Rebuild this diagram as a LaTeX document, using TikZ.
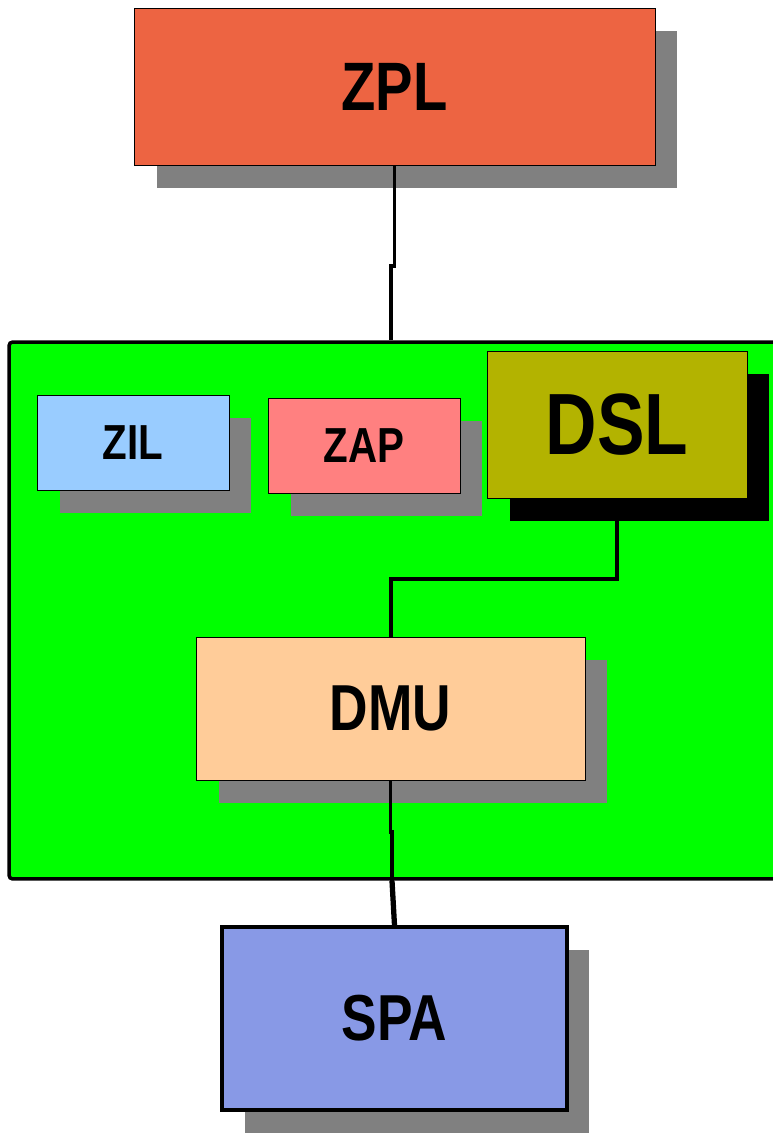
\documentclass[tikz,border=0pt]{standalone}
\usepackage{fontspec}
\setmainfont{Liberation Sans}[FakeStretch=0.82]
\usetikzlibrary{shadows}
\definecolor{zplred}{RGB}{237,100,66}
\definecolor{zilblue}{RGB}{153,204,255}
\definecolor{zappink}{RGB}{255,128,128}
\definecolor{dslolive}{RGB}{179,179,0}
\definecolor{dmupeach}{RGB}{255,204,153}
\definecolor{spablue}{RGB}{136,153,230}
\definecolor{shadowgray}{RGB}{128,128,128}
\definecolor{boardgreen}{RGB}{0,255,0}
\tikzset{
  block/.style={
    rectangle,
    draw=black,
    line width=0.5pt,
    inner sep=0pt,
    drop shadow={shadow xshift=0.45cm, shadow yshift=-0.46cm, fill=#1, opacity=1}
  },
  block/.default=shadowgray,
  label-big/.style={font=\bfseries\fontsize{39}{39}\selectfont},
  label-mid/.style={font=\bfseries\fontsize{37}{37}\selectfont},
  label-small/.style={font=\bfseries\fontsize{28}{28}\selectfont},
  label-huge/.style={font=\bfseries\fontsize{49.5}{49.5}\selectfont},
  wire/.style={line width=2pt, line join=miter},
  thick-wire/.style={line width=3pt}
}

\begin{document}
\begin{tikzpicture}[x=0.02cm, y=-0.02cm]
  \useasboundingbox (0,0) rectangle (772,1133);
  \node[block, fill=zplred, label-big, minimum width=10.42cm, minimum height=3.14cm]
    (zpl) at (394.5,86.5) {ZPL};
  \node[rectangle, draw=black, fill=boardgreen, line width=2pt, rounded corners=2pt,
    minimum width=15.62cm, minimum height=10.74cm] (board) at (399.5,610.5) {};
  \node[block, fill=zilblue, label-small, minimum width=3.84cm, minimum height=1.9cm]
    (zil) at (133,442.5) {ZIL};
  \node[block, fill=zappink, label-small, minimum width=3.84cm, minimum height=1.9cm]
    (zap) at (364,445.5) {ZAP};
  \node[block=black, fill=dslolive, label-huge, minimum width=5.2cm, minimum height=2.94cm]
    (dsl) at (617,424.5) {DSL};
  \node[block, fill=dmupeach, label-mid, minimum width=7.78cm, minimum height=2.86cm]
    (dmu) at (390.5,708.5) {DMU};
  \node[block, fill=spablue, label-mid, line width=2pt, minimum width=6.9cm, minimum height=3.66cm]
    (spa) at (394.5,1018.5) {SPA};
  \coordinate (j1) at (391,266);
  \coordinate (j2) at (391,579);
  \coordinate (j3) at (392,832);
  \draw[wire] (zpl.south) -- (zpl.south |- j1) -- (j1) -- (j1 |- board.north);
  \draw[wire] (dsl.south) |- (j2) -- (j2 |- dmu.north);
  \draw[wire] (dmu.south) -- (dmu.south |- j3) -- (j3) -- (j3 |- board.south);
  \draw[thick-wire] (j3 |- board.south) -- (spa.north);
\end{tikzpicture}
\end{document}
